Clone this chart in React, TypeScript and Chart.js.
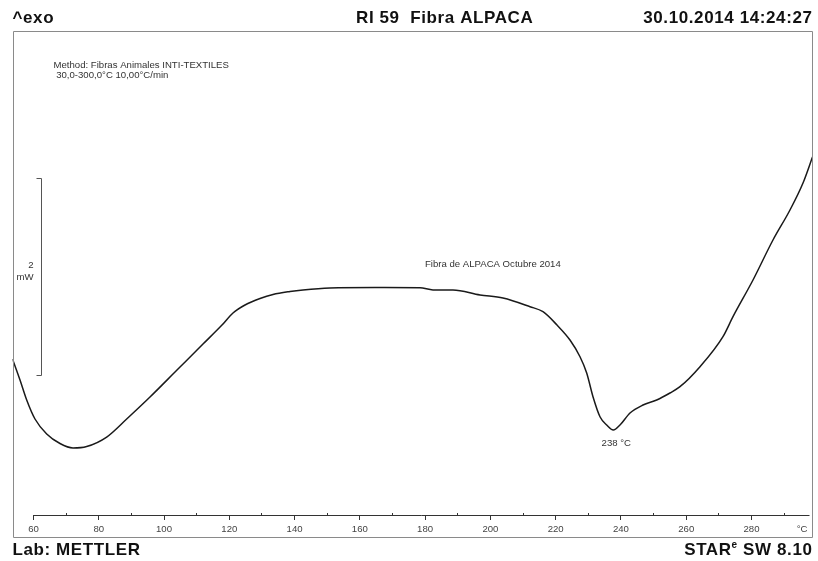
import { useEffect, useRef } from "react";
import { Chart, registerables } from "chart.js";

Chart.register(...registerables);

// ---- data (temperature °C, heat flow mW, relative) ----
const temperatures = [
  53.72, 56.02, 58.07, 60.61, 64.2, 68.27, 72.26, 76.45, 82.58, 88.71, 95.85, 104.12, 112.09,
  117.91, 121.28, 124.96, 129.56, 133.54, 138.75, 142.73, 151.0, 164.79, 178.58, 182.56, 188.69,
  196.97, 204.01, 212.29, 216.27, 220.56, 224.54, 227.61, 229.66, 231.59, 233.73, 235.79,
  237.81, 239.86, 242.93, 246.91, 251.11, 255.18, 258.25, 264.38, 271.42, 274.49, 280.62,
  286.74, 291.95, 295.94, 298.85,
];
const heatFlow = [
  1.807, 1.594, 1.391, 1.198, 1.046, 0.949, 0.904, 0.919, 1.015, 1.198, 1.421, 1.695, 1.959,
  2.152, 2.274, 2.355, 2.421, 2.462, 2.492, 2.508, 2.528, 2.533, 2.531, 2.508, 2.508,
  2.457, 2.426, 2.338, 2.287, 2.152, 2.0, 1.83, 1.665, 1.424, 1.221, 1.137,
  1.086, 1.137, 1.259, 1.34, 1.391, 1.462, 1.526, 1.729, 2.034, 2.237, 2.609,
  3.015, 3.32, 3.594, 3.858,
];
const majorTicks = [60, 80, 100, 120, 140, 160, 180, 200, 220, 240, 260, 280];
const minorTicks = [70, 90, 110, 130, 150, 170, 190, 210, 230, 250, 270, 290];
const tickLabels = ["60", "80", "100", "120", "140", "160", "180", "200", "220", "240", "260", "280"];
const xRange = [53.72, 298.85];
const yRange = [0, 5.137];
const axisLevel = 0.223;
const scaleBarBase = 1.645;
const scaleBarSpan = 2;
const peakTemperature = 237.81;
const peakValue = 1.086;
const peakLabel = "238 °C";
const curveLabel = "Fibra de ALPACA Octubre 2014";
const curveLabelAt = [180.1, 2.772];
const headerLeft = "^exo";
const headerTitle = "RI 59  Fibra ALPACA";
const headerDate = "30.10.2014 14:24:27";
const footerLeft = "Lab: METTLER";
const methodLines = ["Method: Fibras Animales INTI-TEXTILES", " 30,0-300,0°C 10,00°C/min"];

const FONT = '"Liberation Sans", Arial, sans-serif';

const overlay = {
  id: "dscOverlay",
  afterDraw(chart: any) {
    const { ctx, chartArea: a, scales } = chart;
    const xs = scales.x;
    const ys = scales.y;
    ctx.save();

    // frame
    ctx.strokeStyle = "#8a8a8a";
    ctx.lineWidth = 1;
    ctx.beginPath();
    ctx.rect(Math.round(a.left) + 0.5, Math.round(a.top) + 0.5, Math.round(a.right - a.left) - 1, Math.round(a.bottom - a.top));
    ctx.stroke();

    // x axis
    const axisY = Math.round(ys.getPixelForValue(axisLevel)) + 0.5;
    ctx.strokeStyle = "#333";
    ctx.beginPath();
    ctx.moveTo(Math.round(xs.getPixelForValue(majorTicks[0])), axisY);
    ctx.lineTo(a.right - 3, axisY);
    ctx.stroke();
    ctx.beginPath();
    majorTicks.forEach((t) => {
      const px = Math.round(xs.getPixelForValue(t)) + 0.5;
      ctx.moveTo(px, axisY);
      ctx.lineTo(px, axisY + 4.5);
    });
    minorTicks.forEach((t) => {
      const px = Math.round(xs.getPixelForValue(t)) + 0.5;
      ctx.moveTo(px, axisY - 2.5);
      ctx.lineTo(px, axisY);
    });
    ctx.stroke();

    ctx.fillStyle = "#444";
    ctx.font = `9.6px ${FONT}`;
    ctx.textAlign = "center";
    ctx.textBaseline = "middle";
    majorTicks.forEach((t, i) => {
      ctx.fillText(tickLabels[i], xs.getPixelForValue(t) + 0.5, axisY + 14);
    });
    ctx.textAlign = "right";
    ctx.fillText("°C", a.right - 5, axisY + 14);

    // scale bar (2 mW)
    const sbx = Math.round(xs.getPixelForValue(62.45)) + 0.5;
    const sbTop = Math.round(ys.getPixelForValue(scaleBarBase + scaleBarSpan)) + 0.5;
    const sbBot = Math.round(ys.getPixelForValue(scaleBarBase)) + 0.5;
    ctx.strokeStyle = "#555";
    ctx.beginPath();
    ctx.moveTo(sbx - 5, sbTop);
    ctx.lineTo(sbx, sbTop);
    ctx.lineTo(sbx, sbBot);
    ctx.lineTo(sbx - 5, sbBot);
    ctx.stroke();
    ctx.fillStyle = "#333";
    ctx.textAlign = "right";
    ctx.fillText("2", sbx - 8, (sbTop + sbBot) / 2 - 12);
    ctx.fillText("mW", sbx - 8, (sbTop + sbBot) / 2);

    // method text
    ctx.textAlign = "left";
    ctx.fillText(methodLines[0], a.left + 41, a.top + 34);
    ctx.fillText(methodLines[1], a.left + 41, a.top + 44);

    // curve label
    ctx.fillText(curveLabel, xs.getPixelForValue(curveLabelAt[0]), ys.getPixelForValue(curveLabelAt[1]));

    // peak label
    ctx.textAlign = "center";
    ctx.fillText(peakLabel, xs.getPixelForValue(peakTemperature) + 3, ys.getPixelForValue(peakValue) + 13);

    // header & footer
    ctx.fillStyle = "#111";
    ctx.font = `bold 17px ${FONT}`;
    (ctx as any).letterSpacing = "0.6px";
    ctx.textBaseline = "alphabetic";
    ctx.textAlign = "left";
    ctx.fillText(headerLeft, a.left, 23);
    ctx.fillText(headerTitle, 356, 23);
    ctx.textAlign = "right";
    ctx.fillText(headerDate, a.right, 23);
    ctx.textAlign = "left";
    ctx.fillText(footerLeft, a.left, 555);

    // STAR^e SW 8.10
    const p1 = "STAR";
    const p3 = " SW 8.10";
    ctx.font = `bold 17px ${FONT}`;
    const w1 = ctx.measureText(p1).width;
    const w3 = ctx.measureText(p3).width;
    ctx.font = `bold 10px ${FONT}`;
    const w2 = ctx.measureText("e").width;
    let x0 = a.right - (w1 + w2 + w3);
    ctx.font = `bold 17px ${FONT}`;
    ctx.fillText(p1, x0, 555);
    x0 += w1;
    ctx.font = `bold 10px ${FONT}`;
    ctx.fillText("e", x0, 548);
    x0 += w2;
    ctx.font = `bold 17px ${FONT}`;
    ctx.fillText(p3, x0, 555);

    ctx.restore();
  },
};

export default function App() {
  const ref = useRef<HTMLCanvasElement | null>(null);
  useEffect(() => {
    if (!ref.current) return;
    const chart = new Chart(ref.current, {
      type: "line",
      data: {
        datasets: [
          {
            data: temperatures.map((t, i) => ({ x: t, y: heatFlow[i] })),
            borderColor: "#1a1a1a",
            borderWidth: 1.5,
            pointRadius: 0,
            cubicInterpolationMode: "monotone",
            fill: false,
          },
        ],
      },
      options: {
        responsive: false,
        animation: false,
        layout: { padding: { left: 12.5, right: 5.5, top: 31, bottom: 24 } },
        scales: {
          x: { type: "linear", min: xRange[0], max: xRange[1], display: false },
          y: { type: "linear", min: yRange[0], max: yRange[1], display: false },
        },
        plugins: { legend: { display: false }, tooltip: { enabled: false } },
      },
      plugins: [overlay],
    });
    return () => chart.destroy();
  }, []);
  return (
    <div style={{ position: "absolute", left: 0, top: 0, width: 818, height: 561, background: "#fff" }}>
      <canvas ref={ref} width={818} height={561} style={{ display: "block" }} />
    </div>
  );
}
